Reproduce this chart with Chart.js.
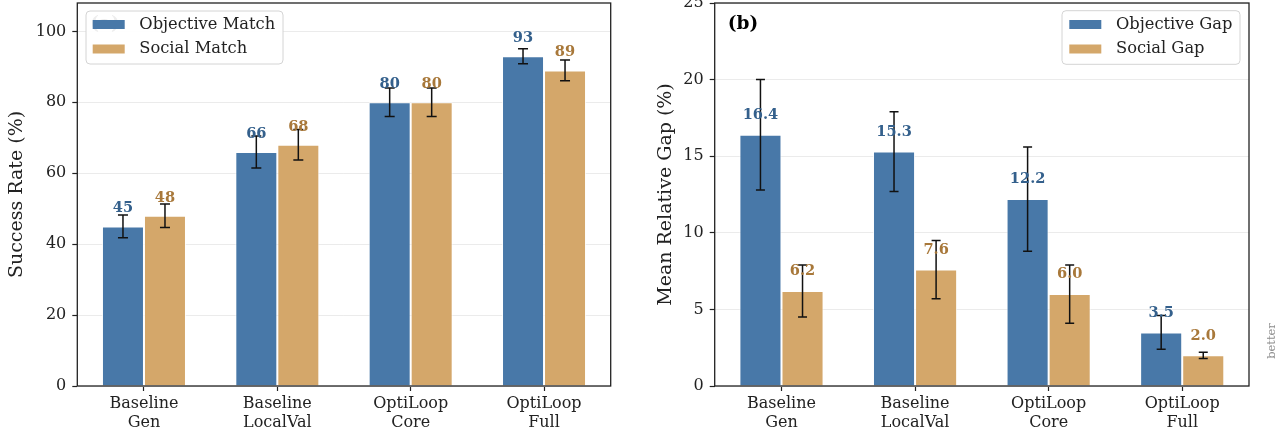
<!DOCTYPE html>
<html><head><meta charset="utf-8">
<script src="https://cdn.jsdelivr.net/npm/chart.js@4.4.0/dist/chart.umd.min.js"></script>
<style>
html,body{margin:0;padding:0;background:#fff;}
#wrap{position:relative;width:1286px;height:435px;overflow:hidden;}
.pane{position:absolute;top:0;height:435px;}
</style></head><body>
<div id="wrap">
<div class="pane" style="left:0;width:640px"><canvas id="c1" width="640" height="435"></canvas></div>
<div class="pane" style="left:640px;width:646px"><canvas id="c2" width="646" height="435"></canvas></div>
</div>
<script>
// ---- data ----
const categories = [["Baseline","Gen"],["Baseline","LocalVal"],["OptiLoop","Core"],["OptiLoop","Full"]];
const objectiveMatch = [45, 66, 80, 93];
const objectiveMatchErr = [3.2, 4.5, 4.0, 2.1];
const socialMatch = [48, 68, 80, 89];
const socialMatchErr = [3.3, 4.3, 4.0, 2.9];
const objectiveGap = [16.4, 15.3, 12.2, 3.5];
const objectiveGapErr = [3.6, 2.6, 3.4, 1.1];
const socialGap = [6.2, 7.6, 6.0, 2.0];
const socialGapErr = [1.7, 1.9, 1.9, 0.2];
const leftTicks = [0, 20, 40, 60, 80, 100];
const rightTicks = [0, 5, 10, 15, 20, 25];

const BLUE = '#4878a8', TAN = '#d4a76a';
const BLUE_TXT = '#34608c', TAN_TXT = '#a8783a';
const SERIF = '"DejaVu Serif", serif';
const INK = '#222222';

const decor = {
  id: 'decor',
  afterDatasetsDraw(chart, args, o) {
    const ctx = chart.ctx, ys = chart.scales.y;
    chart.data.datasets.forEach((ds, di) => {
      const meta = chart.getDatasetMeta(di);
      meta.data.forEach((bar, i) => {
        const v = ds.data[i], e = o.errors[di][i];
        const yt = ys.getPixelForValue(v + e), yb = ys.getPixelForValue(v - e);
        ctx.save();
        ctx.strokeStyle = '#111'; ctx.lineWidth = 1.5;
        ctx.beginPath();
        ctx.moveTo(bar.x, yt); ctx.lineTo(bar.x, yb);
        ctx.moveTo(bar.x - o.cap, yt); ctx.lineTo(bar.x + o.cap, yt);
        ctx.moveTo(bar.x - o.cap, yb); ctx.lineTo(bar.x + o.cap, yb);
        ctx.stroke(); ctx.restore();
      });
    });
    chart.data.datasets.forEach((ds, di) => {
      const meta = chart.getDatasetMeta(di);
      meta.data.forEach((bar, i) => {
        ctx.save();
        ctx.font = 'bold 14.6px ' + SERIF;
        ctx.fillStyle = o.textColors[di];
        ctx.textAlign = 'center'; ctx.textBaseline = 'middle';
        ctx.fillText(ds.data[i].toFixed(o.decimals), bar.x, bar.y - o.labelOffset);
        ctx.restore();
      });
    });
  },
  afterDraw(chart, args, o) {
    const ctx = chart.ctx, a = chart.chartArea;
    ctx.save();
    ctx.strokeStyle = INK; ctx.lineWidth = 1.3;
    ctx.strokeRect(a.left, a.top, a.right - a.left, a.bottom - a.top);
    // panel letter
    ctx.font = 'bold 18.5px ' + SERIF;
    ctx.fillStyle = '#000'; ctx.textAlign = 'left'; ctx.textBaseline = 'middle';
    ctx.fillText(o.letter, a.left + 13, 24);
    // legend
    const L = o.legend;
    ctx.beginPath();
    ctx.roundRect(L.x0, L.y0, L.x1 - L.x0, L.y1 - L.y0, 4);
    ctx.fillStyle = 'rgba(255,255,255,0.93)'; ctx.fill();
    ctx.strokeStyle = '#d4d4d4'; ctx.lineWidth = 1; ctx.stroke();
    chart.data.datasets.forEach((ds, di) => {
      const cy = L.rows[di];
      ctx.fillStyle = ds.backgroundColor;
      ctx.fillRect(L.px, cy - 4.5, 32, 9);
      ctx.fillStyle = INK; ctx.font = '16.3px ' + SERIF;
      ctx.textAlign = 'left'; ctx.textBaseline = 'middle';
      ctx.fillText(ds.label, L.tx, cy);
    });
    if (o.note) {
      ctx.translate(o.note.x, o.note.y); ctx.rotate(-Math.PI / 2);
      ctx.font = '11.5px ' + SERIF; ctx.fillStyle = '#8c8c8c';
      ctx.textAlign = 'center'; ctx.textBaseline = 'middle';
      ctx.fillText(o.note.text, 0, 0);
    }
    ctx.restore();
  }
};

function makeChart(id, cfg) {
  return new Chart(document.getElementById(id), {
    type: 'bar',
    data: {
      labels: categories,
      datasets: [
        { label: cfg.names[0], data: cfg.a, backgroundColor: BLUE, borderColor: 'rgba(255,255,255,0.75)', borderWidth: 1, categoryPercentage: 0.63, barPercentage: 1.0 },
        { label: cfg.names[1], data: cfg.b, backgroundColor: TAN, borderColor: 'rgba(255,255,255,0.75)', borderWidth: 1, categoryPercentage: 0.63, barPercentage: 1.0 }
      ]
    },
    plugins: [decor],
    options: {
      responsive: false, animation: false, devicePixelRatio: 1,
      layout: { padding: { top: 3, right: cfg.padRight, left: 0, bottom: 0 } },
      plugins: {
        legend: { display: false }, tooltip: { enabled: false },
        decor: {
          errors: [cfg.aErr, cfg.bErr], cap: cfg.cap, decimals: cfg.decimals,
          labelOffset: cfg.labelOffset, textColors: [BLUE_TXT, TAN_TXT],
          letter: cfg.letter, legend: cfg.legend, note: cfg.note
        }
      },
      scales: {
        x: {
          grid: { display: true, drawOnChartArea: false, offset: false, tickLength: 5, tickColor: INK, tickWidth: 1.2 },
          border: { display: false },
          ticks: { color: INK, padding: 4, font: { family: SERIF, size: 16, lineHeight: 1.16 }, maxRotation: 0 },
          afterFit(s) { s.height = 49; s.paddingLeft = 0; s.paddingRight = 0; }
        },
        y: {
          min: 0, max: cfg.max,
          afterBuildTicks(s) { s.ticks = cfg.ticks.map(v => ({ value: v })); },
          grid: { color: '#ebebeb', lineWidth: 1, tickLength: 5, tickColor: INK, tickWidth: 1.2 },
          border: { display: false },
          ticks: { color: INK, padding: 6, font: { family: SERIF, size: 16 } },
          title: { display: true, text: cfg.title, color: INK, font: { family: SERIF, size: 19 }, padding: { top: cfg.titlePad, bottom: 0 } },
          afterFit(s) { s.width = cfg.yWidth; s.paddingTop = 0; s.paddingBottom = 0; }
        }
      }
    }
  });
}

makeChart('c1', {
  names: ['Objective Match', 'Social Match'],
  a: objectiveMatch, b: socialMatch, aErr: objectiveMatchErr, bErr: socialMatchErr,
  max: 108, ticks: leftTicks, title: 'Success Rate (%)', titlePad: 6,
  yWidth: 77.3, padRight: 29.3, cap: 5, decimals: 0, labelOffset: 18, letter: '(a)',
  legend: { x0: 86, y0: 11, x1: 283, y1: 64, px: 92.7, tx: 139.3, rows: [24.5, 49] },
  note: null
});
makeChart('c2', {
  names: ['Objective Gap', 'Social Gap'],
  a: objectiveGap, b: socialGap, aErr: objectiveGapErr, bErr: socialGapErr,
  max: 25, ticks: rightTicks, title: 'Mean Relative Gap (%)', titlePad: 15,
  yWidth: 74.7, padRight: 37, cap: 4.5, decimals: 1, labelOffset: 19.5, letter: '(b)',
  legend: { x0: 422, y0: 10.7, x1: 600, y1: 64.3, px: 429.3, tx: 476, rows: [24.5, 49] },
  note: { x: 632, y: 341, text: 'better' }
});
</script>
</body></html>
